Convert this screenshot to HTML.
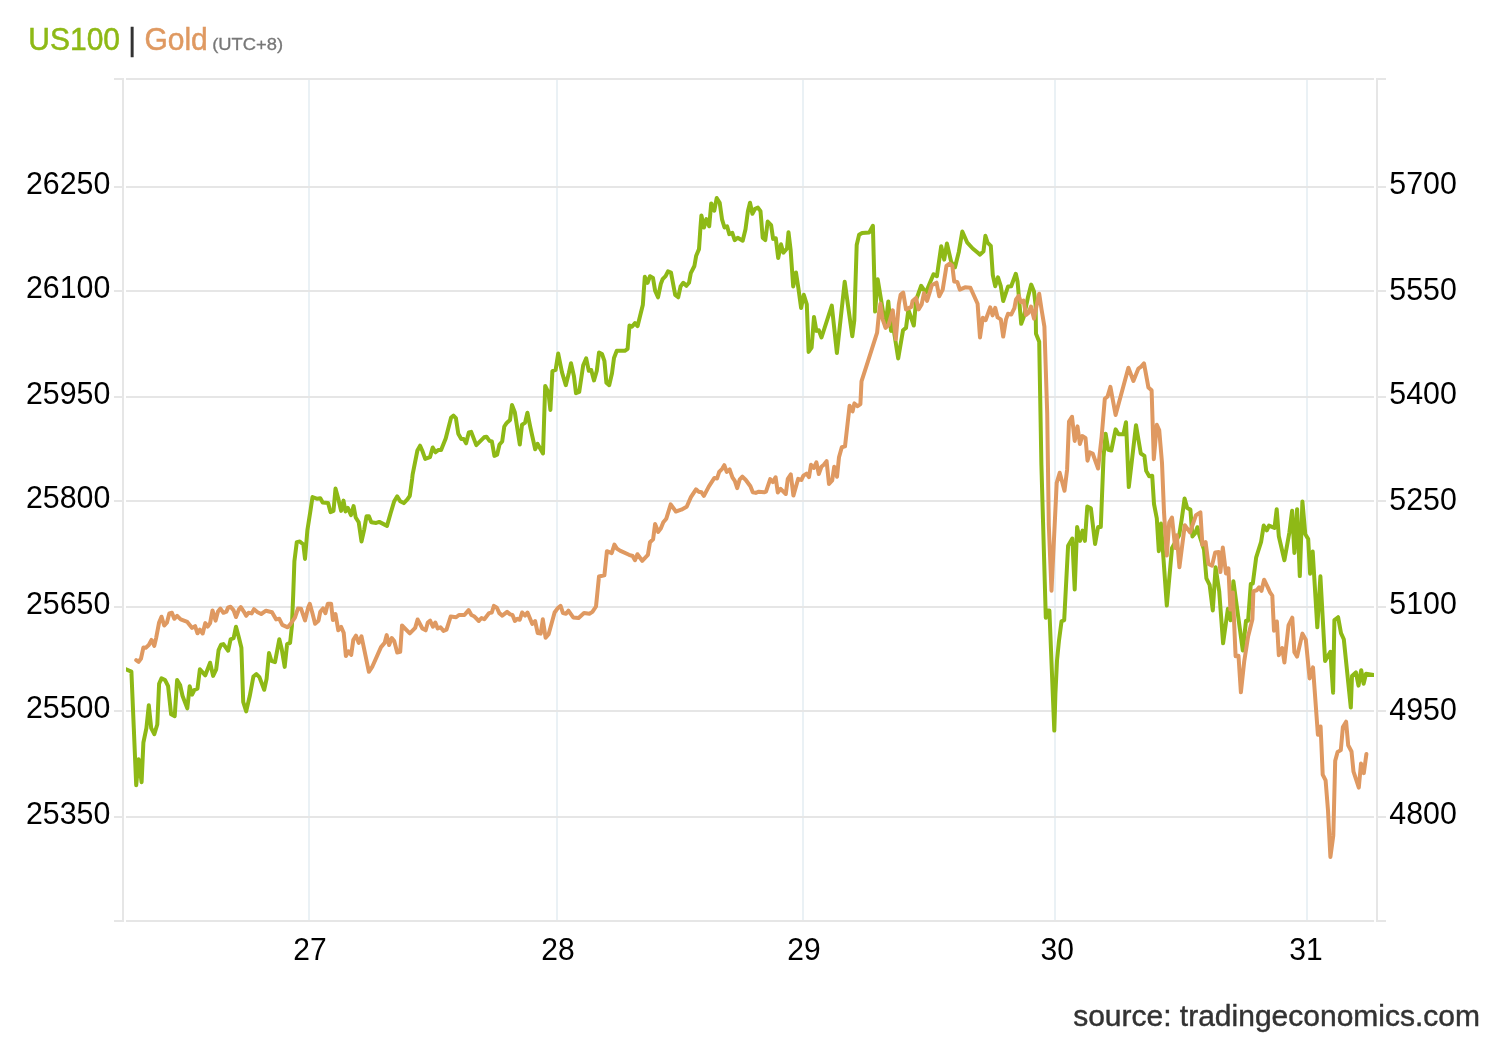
<!DOCTYPE html>
<html><head><meta charset="utf-8"><title>US100 | Gold</title>
<style>
html,body{margin:0;padding:0;background:#fff;}
body{width:1500px;height:1040px;overflow:hidden;font-family:"Liberation Sans",Arial,sans-serif;}
svg{display:block;will-change:transform;}
text{font-family:"Liberation Sans",Arial,sans-serif;}
</style></head><body>
<svg width="1500" height="1040" viewBox="0 0 1500 1040">
<rect width="1500" height="1040" fill="#fff"/>

<rect x="308" y="80" width="2" height="840" fill="#eaf1f5"/>
<rect x="556" y="80" width="2" height="840" fill="#eaf1f5"/>
<rect x="802" y="80" width="2" height="840" fill="#eaf1f5"/>
<rect x="1054" y="80" width="2" height="840" fill="#eaf1f5"/>
<rect x="1306" y="80" width="2" height="840" fill="#eaf1f5"/>
<rect x="126" y="186" width="1248" height="2" fill="#e6e6e6"/>
<rect x="114" y="186" width="10" height="2" fill="#e6e6e6"/>
<rect x="1376" y="186" width="10" height="2" fill="#e6e6e6"/>
<rect x="126" y="290" width="1248" height="2" fill="#e6e6e6"/>
<rect x="114" y="290" width="10" height="2" fill="#e6e6e6"/>
<rect x="1376" y="290" width="10" height="2" fill="#e6e6e6"/>
<rect x="126" y="396" width="1248" height="2" fill="#e6e6e6"/>
<rect x="114" y="396" width="10" height="2" fill="#e6e6e6"/>
<rect x="1376" y="396" width="10" height="2" fill="#e6e6e6"/>
<rect x="126" y="500" width="1248" height="2" fill="#e6e6e6"/>
<rect x="114" y="500" width="10" height="2" fill="#e6e6e6"/>
<rect x="1376" y="500" width="10" height="2" fill="#e6e6e6"/>
<rect x="126" y="606" width="1248" height="2" fill="#e6e6e6"/>
<rect x="114" y="606" width="10" height="2" fill="#e6e6e6"/>
<rect x="1376" y="606" width="10" height="2" fill="#e6e6e6"/>
<rect x="126" y="710" width="1248" height="2" fill="#e6e6e6"/>
<rect x="114" y="710" width="10" height="2" fill="#e6e6e6"/>
<rect x="1376" y="710" width="10" height="2" fill="#e6e6e6"/>
<rect x="126" y="816" width="1248" height="2" fill="#e6e6e6"/>
<rect x="114" y="816" width="10" height="2" fill="#e6e6e6"/>
<rect x="1376" y="816" width="10" height="2" fill="#e6e6e6"/>
<rect x="126" y="78" width="1248" height="2" fill="#e6e6e6"/>
<rect x="114" y="78" width="10" height="2" fill="#e6e6e6"/>
<rect x="1376" y="78" width="10" height="2" fill="#e6e6e6"/>
<rect x="126" y="920" width="1248" height="2" fill="#e6e6e6"/>
<rect x="114" y="920" width="10" height="2" fill="#e6e6e6"/>
<rect x="1376" y="920" width="10" height="2" fill="#e6e6e6"/>
<rect x="122" y="78" width="2" height="844" fill="#e6e6e6"/>
<rect x="1376" y="78" width="2" height="844" fill="#e6e6e6"/>
<defs><clipPath id="plot"><rect x="126" y="79" width="1248" height="842"/></clipPath></defs>
<polyline clip-path="url(#plot)" fill="none" stroke="#8eb916" stroke-width="4" stroke-linejoin="round" stroke-linecap="round" points="121.0,667.9 126.0,669.3 131.4,671.7 133.8,728.1 136.2,785.2 138.6,759.3 141.6,782.2 143.4,742.5 146.4,728.1 148.8,705.2 151.2,728.1 154.3,734.1 157.3,724.5 159.1,683.8 161.5,678.3 165.1,680.1 168.1,686.2 171.1,714.3 174.7,716.1 177.1,680.1 180.1,685.0 182.5,695.8 187.3,708.4 189.7,686.2 192.1,694.6 194.5,689.8 197.5,688.6 199.9,669.3 205.3,675.3 210.1,662.7 213.1,675.9 216.2,669.3 218.6,650.1 221.0,644.7 223.4,644.1 228.2,650.7 230.6,639.3 233.6,638.1 236.0,626.7 239.0,638.1 241.4,647.7 243.2,701.8 246.2,711.4 249.8,695.8 253.4,676.5 256.4,674.1 259.4,677.1 264.2,689.8 266.6,678.9 269.0,653.1 271.4,660.9 275.0,662.1 279.3,639.3 281.7,648.9 284.7,666.9 287.1,644.1 290.1,642.9 291.9,626.1 293.2,595.0 294.4,561.3 296.8,542.1 299.8,541.5 303.4,544.5 305.0,558.9 307.4,530.1 310.6,509.7 312.5,497.0 317.3,498.8 320.3,498.2 322.7,502.5 328.1,503.1 330.5,512.1 333.5,510.9 335.5,488.6 338.3,498.8 341.1,510.9 343.5,500.6 345.5,511.5 347.9,507.9 350.9,515.1 353.6,506.1 355.7,517.5 358.7,522.3 361.5,541.5 364.1,530.1 366.5,516.3 368.9,516.3 371.3,522.3 376.2,522.9 379.2,521.9 387.0,525.9 390.6,513.3 394.2,501.2 397.2,496.4 400.2,501.2 403.8,503.1 407.4,499.4 409.8,495.8 412.2,478.4 412.6,474.6 417.4,450.5 420.1,445.7 422.2,450.5 425.2,458.9 430.0,457.1 432.7,447.5 435.5,452.3 438.5,449.9 441.1,449.9 445.7,438.5 451.1,417.5 453.5,415.7 455.9,418.1 458.3,433.7 461.3,439.1 463.7,439.1 466.1,443.3 468.8,432.5 471.2,431.9 476.3,445.1 484.1,437.3 486.5,436.7 489.5,440.9 491.9,441.5 494.4,455.9 497.1,454.7 499.5,444.5 502.2,441.5 504.3,426.5 506.7,422.9 510.0,419.9 512.0,404.9 514.8,412.1 519.8,444.5 522.0,424.7 525.0,422.9 527.4,412.7 530.4,427.7 535.2,449.3 537.6,443.9 543.0,453.5 545.2,386.0 548.4,392.4 550.4,410.0 552.4,371.2 555.6,370.0 558.2,353.6 562.0,372.4 565.8,385.2 568.8,373.2 571.0,363.2 574.0,376.4 576.0,393.2 579.2,392.0 583.2,365.2 586.2,358.4 588.8,370.8 591.2,370.0 594.0,380.4 596.8,370.8 599.0,352.4 602.0,354.0 604.4,360.8 606.4,382.8 609.2,385.2 612.0,373.2 614.0,358.0 616.8,350.8 624.8,350.8 627.6,348.8 629.5,325.5 631.9,326.7 635.0,323.1 637.6,326.1 642.8,305.1 644.8,276.8 647.6,282.8 650.0,276.2 653.0,278.0 655.1,290.6 658.0,297.3 660.8,284.0 662.6,279.2 665.6,276.2 668.0,271.4 671.0,272.6 675.2,294.9 678.2,297.3 680.6,286.4 683.3,282.8 686.4,285.8 689.0,282.8 690.8,273.2 694.4,266.0 696.2,255.7 699.0,249.1 700.4,228.1 701.4,215.5 704.0,227.5 706.4,219.1 709.2,226.3 711.2,203.4 714.3,210.6 716.7,198.0 719.7,202.8 722.1,219.7 724.5,227.5 727.1,226.3 729.3,234.1 732.3,232.9 734.7,240.1 737.7,237.7 742.7,240.7 745.5,229.3 747.9,211.2 750.0,202.8 752.4,213.7 755.1,208.8 757.9,207.6 760.5,211.2 762.7,237.7 765.3,240.1 767.7,221.5 771.1,225.1 773.1,238.9 775.8,238.3 778.2,258.1 781.0,244.3 783.4,252.7 787.0,248.5 788.5,232.3 790.6,249.7 793.2,286.4 796.0,272.5 798.4,288.2 801.1,308.0 803.8,294.8 806.8,304.4 808.6,351.9 811.6,347.7 814.0,317.0 816.4,330.9 818.8,330.3 821.5,337.5 831.8,305.6 836.9,353.1 844.7,281.7 852.3,336.3 854.3,320.6 856.7,245.0 859.1,234.8 862.1,233.0 869.3,232.4 872.9,225.8 874.1,271.5 875.1,311.6 877.7,279.3 885.4,326.1 888.3,301.4 891.0,330.9 892.4,321.2 898.2,358.5 903.0,330.3 906.0,327.9 908.4,309.8 913.8,325.5 916.2,299.6 921.2,285.8 925.8,292.7 933.5,274.2 936.9,276.2 941.2,246.2 944.2,259.6 946.9,243.5 951.2,261.9 955.0,267.3 958.8,251.9 962.3,231.5 967.3,242.7 972.7,248.5 980.0,254.6 983.5,251.2 985.4,235.8 987.6,242.6 990.8,245.8 992.8,275.0 995.2,286.2 998.0,277.4 1000.8,286.2 1003.2,301.0 1008.0,286.6 1011.2,286.2 1015.8,273.8 1017.6,281.8 1021.2,323.8 1024.0,316.2 1028.0,297.0 1031.2,284.6 1034.0,291.4 1035.6,305.0 1036.0,333.8 1039.2,341.8 1041.4,464.9 1045.8,617.8 1047.0,610.6 1049.4,610.6 1054.3,730.6 1055.4,694.2 1057.0,660.6 1059.0,640.4 1061.5,621.4 1064.2,620.2 1068.1,545.7 1072.3,538.5 1074.7,589.5 1077.1,527.0 1080.1,540.9 1082.5,530.6 1084.9,540.9 1087.3,506.6 1090.9,508.4 1095.1,543.9 1098.1,527.0 1100.8,527.0 1103.5,457.7 1105.6,433.7 1108.3,449.9 1111.3,450.5 1115.6,429.4 1118.6,434.3 1123.4,434.3 1126.0,422.2 1128.8,487.1 1136.0,425.2 1140.8,453.5 1144.4,455.9 1146.2,470.9 1149.2,476.3 1152.2,475.7 1154.0,504.0 1156.8,518.4 1158.8,551.2 1161.0,523.6 1166.8,605.6 1172.0,548.0 1179.2,535.2 1181.6,520.0 1184.6,498.4 1187.2,508.0 1190.4,509.6 1192.4,536.4 1195.2,533.2 1197.4,527.2 1199.6,536.0 1204.0,549.6 1206.4,578.4 1209.6,584.8 1212.8,610.4 1215.6,567.2 1219.2,591.2 1223.1,643.3 1227.9,608.7 1230.6,620.2 1233.4,581.2 1242.8,650.5 1246.0,620.7 1248.1,620.7 1250.8,584.0 1252.8,583.6 1256.2,557.3 1261.1,541.9 1263.7,525.6 1266.8,530.4 1269.0,525.6 1274.5,528.0 1276.7,509.2 1278.8,536.2 1284.4,560.2 1289.4,532.3 1292.1,510.7 1294.4,553.0 1297.1,509.2 1299.8,576.1 1302.4,501.5 1305.3,534.2 1308.2,539.0 1310.1,573.7 1312.7,551.5 1317.3,627.3 1320.4,576.3 1325.1,661.0 1330.4,651.8 1333.1,692.7 1334.4,620.1 1338.1,617.2 1341.0,633.1 1343.8,639.3 1350.8,707.6 1352.0,676.0 1355.9,672.4 1358.5,685.6 1361.2,670.2 1363.6,683.7 1366.0,673.8 1373.7,675.0 1379.0,675.9"/>
<polyline clip-path="url(#plot)" fill="none" stroke="#df9961" stroke-width="4" stroke-linejoin="round" stroke-linecap="round" points="136.2,660.2 138.6,661.9 141.0,658.5 143.4,647.5 145.8,647.7 148.8,645.0 151.5,639.9 154.3,645.9 156.1,638.1 159.1,622.5 161.5,616.7 164.2,625.5 166.9,622.7 169.3,613.4 171.9,612.8 174.3,618.8 177.1,615.8 180.7,619.4 187.3,621.9 192.1,627.9 195.1,626.1 197.5,633.3 199.9,629.7 202.7,633.5 205.3,623.1 207.7,626.7 210.1,623.1 212.5,610.4 215.6,620.6 218.0,611.6 220.4,608.6 223.4,612.8 226.4,611.6 228.2,607.4 230.6,606.8 233.6,610.4 236.0,617.0 239.0,609.2 240.8,607.1 243.8,611.6 246.2,615.8 248.6,612.8 251.6,613.4 254.0,609.2 257.6,612.2 261.2,614.0 266.0,610.7 272.0,612.2 276.2,619.4 279.3,618.8 282.3,624.9 287.7,627.3 290.7,623.7 294.9,617.6 297.9,608.6 301.0,608.7 305.0,620.4 308.2,607.5 309.8,603.8 312.5,613.5 315.1,623.7 318.5,620.7 320.3,611.7 323.0,608.4 325.4,613.2 327.8,603.8 331.1,603.8 332.9,620.1 335.5,614.1 338.3,630.3 341.1,626.9 343.7,632.7 345.9,656.1 348.5,651.3 351.2,654.9 353.3,639.9 356.0,635.7 358.7,642.9 361.5,636.3 368.9,671.8 372.5,666.3 381.0,647.1 384.6,642.9 386.7,635.1 389.1,645.0 391.8,638.1 394.2,641.1 397.2,652.5 400.2,651.9 402.0,625.5 409.8,633.3 415.2,627.9 417.6,619.5 422.4,628.5 425.7,630.3 427.8,622.5 430.2,620.7 432.9,626.7 435.3,622.5 437.7,628.5 440.5,627.3 443.5,630.9 446.5,629.7 450.7,616.5 456.1,617.3 459.0,615.0 464.4,615.0 468.6,610.1 471.4,615.0 474.0,616.2 478.8,621.0 481.5,618.0 484.3,619.2 489.1,613.1 491.8,612.5 493.9,605.9 496.9,607.7 499.3,613.1 502.3,615.6 507.1,611.9 510.1,614.4 512.5,615.0 514.9,621.0 517.3,618.8 519.7,619.8 522.1,612.5 525.1,615.6 527.5,612.5 532.3,624.0 535.1,621.0 537.7,633.0 540.7,633.6 542.8,619.2 545.6,637.8 548.6,634.2 554.6,612.5 557.6,608.3 560.6,605.9 563.0,613.1 566.0,613.8 568.4,610.7 573.2,617.4 578.6,618.0 584.0,613.1 589.4,613.8 592.4,611.9 596.0,606.5 599.0,576.5 604.4,575.3 606.9,551.2 611.7,553.1 614.4,544.6 617.1,548.8 620.0,550.6 629.0,554.8 632.6,556.0 635.0,560.2 637.4,554.2 642.2,560.8 647.9,554.8 650.0,542.2 653.1,539.2 655.1,524.1 658.2,531.9 660.9,528.3 663.3,522.3 666.3,518.7 670.7,504.3 675.9,511.5 681.3,509.7 686.7,506.7 690.9,497.1 696.0,489.3 698.7,491.7 701.5,492.3 703.9,495.9 708.9,486.3 714.4,477.9 717.1,478.5 719.2,471.9 722.2,468.8 724.3,465.2 726.7,471.9 729.6,469.4 732.4,477.3 734.8,480.9 737.2,488.1 739.6,479.7 742.4,476.7 745.6,479.7 750.4,486.3 752.8,492.3 755.8,492.9 758.8,491.7 764.2,492.3 766.0,491.7 770.2,479.1 772.9,482.1 775.6,477.3 777.8,492.4 780.6,488.8 785.8,494.0 787.8,478.8 790.8,474.4 793.4,495.6 798.2,478.8 801.4,480.0 803.4,475.6 806.6,473.6 809.0,477.2 811.0,464.8 813.8,468.0 816.4,462.4 818.8,474.0 821.4,466.8 823.8,464.8 826.6,461.2 829.0,484.0 832.2,480.4 834.2,466.8 837.0,476.8 839.0,457.2 841.8,447.2 845.0,446.4 849.6,405.8 852.6,411.4 854.4,403.4 857.6,406.2 860.4,404.2 861.5,381.3 868.1,360.9 877.1,332.7 878.9,314.0 880.4,303.8 882.5,318.8 885.6,327.9 888.6,324.9 892.8,310.4 895.8,339.3 898.8,304.4 900.6,294.8 903.2,292.5 906.0,309.4 911.4,306.9 912.6,300.9 916.0,297.9 918.6,309.4 921.6,304.5 924.0,293.1 927.0,300.9 930.0,291.3 931.8,285.3 936.5,282.7 939.2,296.2 942.7,289.6 946.5,265.8 949.6,263.5 952.3,265.8 954.2,281.5 957.3,281.9 959.8,289.6 965.0,287.3 970.4,287.7 977.6,303.8 980.0,337.4 982.8,317.8 985.6,320.2 990.2,307.4 992.6,315.4 995.2,307.8 997.6,317.4 1000.8,319.4 1003.2,336.6 1006.0,319.4 1008.0,313.8 1011.2,314.6 1014.4,308.2 1016.0,299.4 1018.8,295.8 1020.8,302.2 1023.6,300.6 1026.0,315.0 1028.4,313.0 1031.0,306.6 1034.0,318.6 1037.2,302.6 1039.2,293.8 1041.6,309.8 1044.4,326.6 1047.2,413.2 1048.8,525.0 1051.5,590.7 1056.7,482.9 1059.7,472.7 1064.5,490.7 1067.1,469.7 1069.0,421.6 1072.0,416.8 1074.7,440.9 1077.5,426.4 1079.9,443.9 1082.3,436.1 1085.5,437.9 1087.5,460.7 1089.7,452.3 1092.7,453.5 1098.1,468.5 1101.7,436.1 1104.8,398.8 1107.6,396.4 1110.4,386.8 1115.6,415.0 1128.4,367.8 1133.4,381.0 1138.4,368.6 1141.2,366.6 1144.0,363.4 1148.4,387.4 1151.6,390.2 1153.8,459.2 1156.8,424.8 1159.2,430.0 1162.0,462.8 1164.0,512.0 1166.8,555.6 1169.2,522.4 1172.0,517.6 1175.2,548.0 1176.8,535.2 1179.4,567.2 1184.8,525.2 1190.0,532.4 1196.0,515.2 1200.4,512.4 1202.4,544.8 1205.6,542.0 1208.4,564.0 1212.0,565.6 1215.2,552.4 1218.8,552.0 1220.4,572.0 1222.8,547.6 1226.0,573.6 1228.4,568.4 1230.4,609.6 1232.8,592.4 1235.6,656.2 1238.5,655.8 1240.9,692.3 1244.2,661.5 1248.1,636.5 1252.4,619.2 1253.4,591.2 1256.7,590.3 1259.1,587.4 1261.5,590.8 1264.1,579.7 1267.8,587.4 1270.2,592.7 1272.3,595.6 1274.0,630.7 1276.9,621.5 1278.8,655.2 1282.2,648.0 1284.4,662.5 1288.5,625.4 1292.3,617.7 1294.4,652.3 1297.1,656.6 1302.4,633.6 1305.8,639.8 1309.6,678.4 1313.0,667.3 1317.9,734.7 1320.6,726.5 1322.7,774.6 1325.6,780.4 1328.0,810.4 1330.4,857.0 1333.3,835.4 1335.2,760.7 1337.6,752.0 1340.8,750.1 1342.9,727.0 1346.1,721.7 1348.2,745.3 1351.5,751.5 1353.5,771.7 1358.8,787.6 1361.0,763.6 1363.8,773.2 1366.4,753.9"/>
<text transform="translate(110.3,194.3) scale(1.012,1.06)" font-size="30" text-anchor="end" fill="#000">26250</text>
<text transform="translate(110.3,298.3) scale(1.012,1.06)" font-size="30" text-anchor="end" fill="#000">26100</text>
<text transform="translate(110.3,404.3) scale(1.012,1.06)" font-size="30" text-anchor="end" fill="#000">25950</text>
<text transform="translate(110.3,508.3) scale(1.012,1.06)" font-size="30" text-anchor="end" fill="#000">25800</text>
<text transform="translate(110.3,614.3) scale(1.012,1.06)" font-size="30" text-anchor="end" fill="#000">25650</text>
<text transform="translate(110.3,718.3) scale(1.012,1.06)" font-size="30" text-anchor="end" fill="#000">25500</text>
<text transform="translate(110.3,824.3) scale(1.012,1.06)" font-size="30" text-anchor="end" fill="#000">25350</text>
<text transform="translate(1389.3,194.3) scale(1.012,1.06)" font-size="30" text-anchor="start" fill="#000">5700</text>
<text transform="translate(1389.3,300.3) scale(1.012,1.06)" font-size="30" text-anchor="start" fill="#000">5550</text>
<text transform="translate(1389.3,404.3) scale(1.012,1.06)" font-size="30" text-anchor="start" fill="#000">5400</text>
<text transform="translate(1389.3,510.3) scale(1.012,1.06)" font-size="30" text-anchor="start" fill="#000">5250</text>
<text transform="translate(1389.3,614.3) scale(1.012,1.06)" font-size="30" text-anchor="start" fill="#000">5100</text>
<text transform="translate(1389.3,720.3) scale(1.012,1.06)" font-size="30" text-anchor="start" fill="#000">4950</text>
<text transform="translate(1389.3,824.3) scale(1.012,1.06)" font-size="30" text-anchor="start" fill="#000">4800</text>
<text transform="translate(310,960.3) scale(1,1.06)" font-size="30" text-anchor="middle" fill="#000">27</text>
<text transform="translate(558,960.3) scale(1,1.06)" font-size="30" text-anchor="middle" fill="#000">28</text>
<text transform="translate(804,960.3) scale(1,1.06)" font-size="30" text-anchor="middle" fill="#000">29</text>
<text transform="translate(1057.3,960.3) scale(1,1.06)" font-size="30" text-anchor="middle" fill="#000">30</text>
<text transform="translate(1306,960.3) scale(1,1.06)" font-size="30" text-anchor="middle" fill="#000">31</text>
<text transform="translate(28.3,49.7) scale(1,1.04)" font-size="30"><tspan fill="#8eb916" stroke="#8eb916" stroke-width="0.5">US100</tspan><tspan fill="#333" stroke="#333" stroke-width="0.4"> | </tspan><tspan fill="#df9961" stroke="#df9961" stroke-width="0.5">Gold</tspan></text>
<text transform="translate(212.2,49.7) scale(1.08,1)" font-size="17" fill="#777" stroke="#777" stroke-width="0.3">(UTC+8)</text>
<text x="1480" y="1026.2" font-size="30" text-anchor="end" fill="#333" stroke="#333" stroke-width="0.45">source: tradingeconomics.com</text>
</svg></body></html>
